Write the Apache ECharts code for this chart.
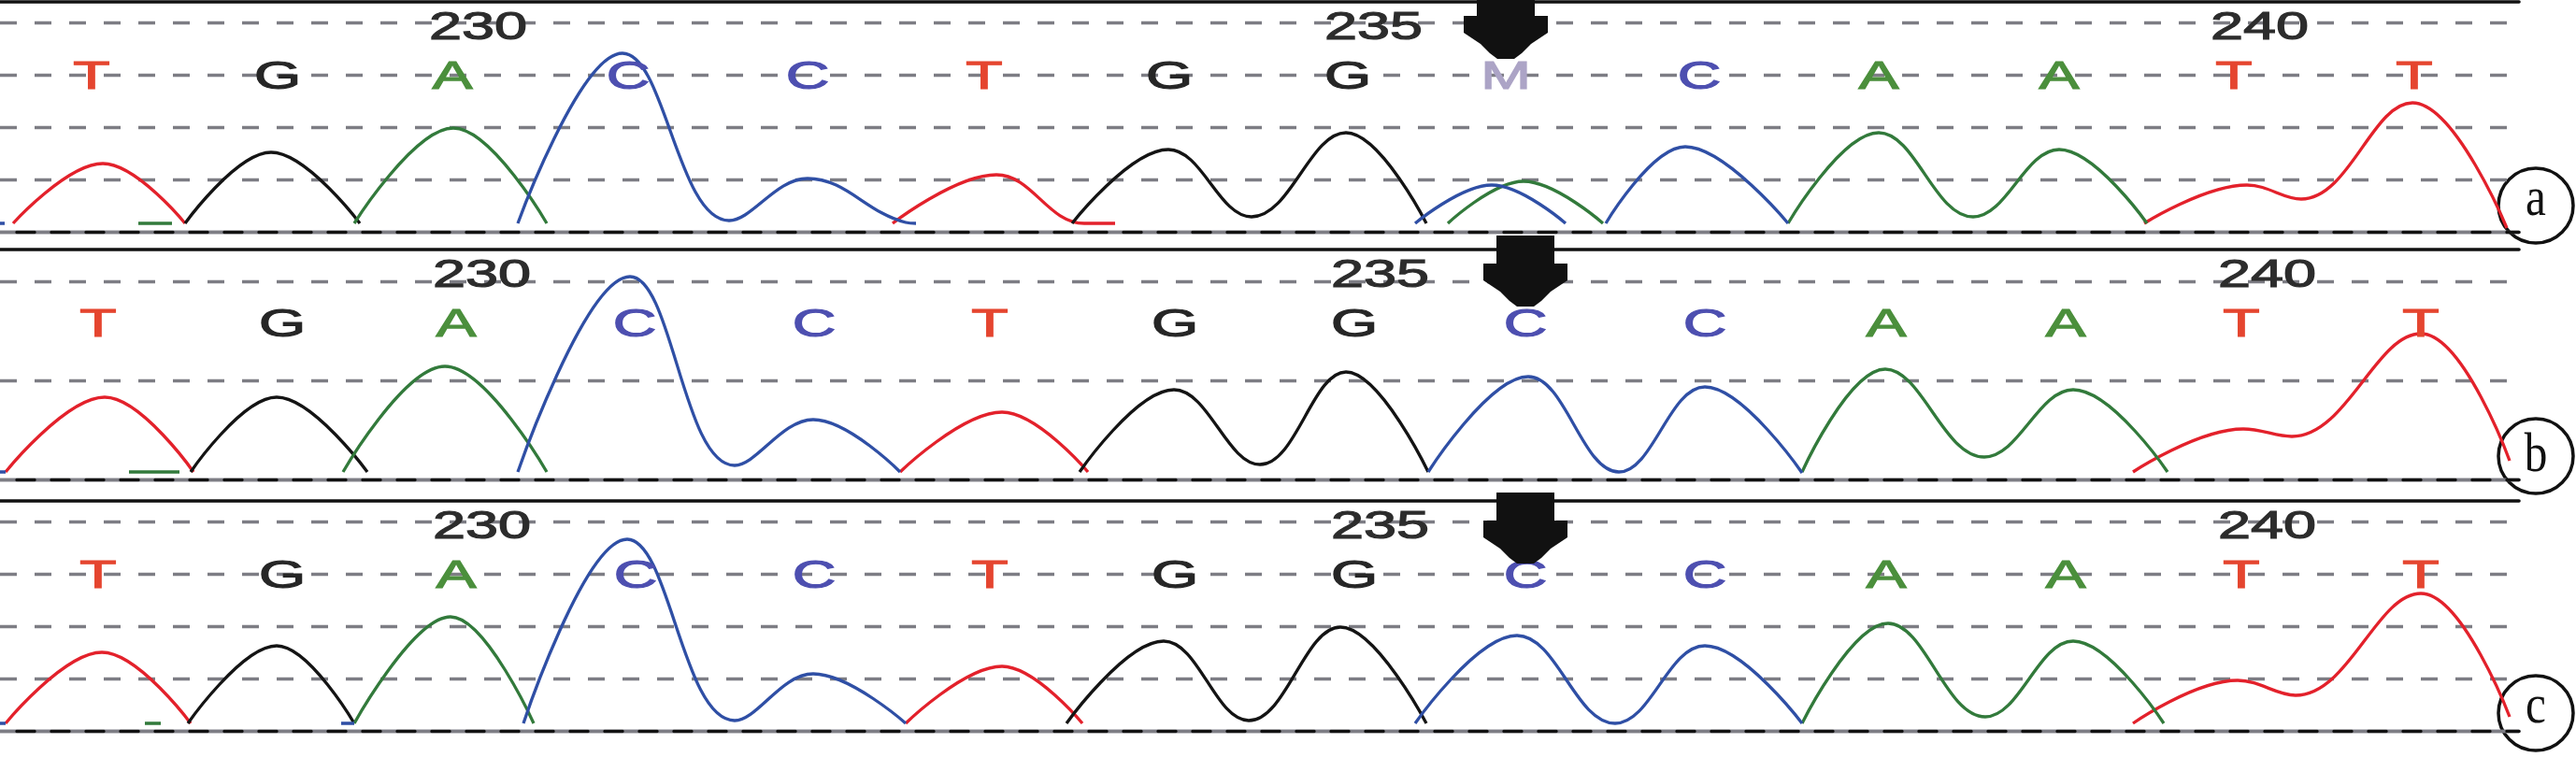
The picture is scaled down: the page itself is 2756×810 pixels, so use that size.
<!DOCTYPE html>
<html><head><meta charset="utf-8">
<script src="https://cdn.jsdelivr.net/npm/echarts@6/dist/echarts.min.js"></script>
<style>html,body{margin:0;padding:0;background:#fff}#c{width:2756px;height:810px}</style>
</head><body><div id="c"></div>
<script>
// ---- data ----
const firstBase = 228;
const basesA = ['T','G','A','C','C','T','G','G','M','C','A','A','T','T'];
const basesB = ['T','G','A','C','C','T','G','G','C','C','A','A','T','T'];
const basesC = ['T','G','A','C','C','T','G','G','C','C','A','A','T','T'];
const basePosA = [98,297,484,672,864,1053,1251,1442,1611,1818,2010,2203,2390,2583];
const basePosB = [105,302,488,679,871,1059,1257,1449,1632,1824,2018,2210,2398,2590];
const basePosC = [105,302,488,680,871,1059,1257,1449,1632,1824,2018,2210,2398,2590];
const tickBases = [230,235,240];
const tickLabels = ['230','235','240'];
const markedBase = 236;
const panelLabels = ['a','b','c'];

// trace points [scan position, signal height]; null = gap
const redA = [[14,9],[110,73],[198,9],null,[955,9],[1066,61],[1160,9],[1193,9],null,[2294,9],[2404,50],[2462,35],[2581,138],[2682,4]];
const blackA = [[198,9],[290,85],[385,9],null,[1147,9],[1250,88],[1339,16],[1440,106],[1526,9]];
const greenA = [[148,9],[184,9],null,[379,9],[485,111],[585,9],null,[1549,9],[1630,54],[1715,9],null,[1913,9],[2010,106],[2111,16],[2203,88],[2297,9]];
const blueA = [[0,9],[5,9],null,[554,9],[666,191],[780,12],[864,57],[969,10],[980,9],null,[1514,9],[1596,50],[1675,9],null,[1718,9],[1803,91],[1913,9]];

const redB = [[6,8],[112,88],[207,8],null,[963,8],[1072,72],[1164,8],null,[2282,8],[2400,54],[2452,46],[2590,156],[2685,20]];
const blackB = [[204,8],[296,88],[393,8],null,[1155,8],[1256,96],[1348,16],[1440,115],[1528,8]];
const greenB = [[138,8],[192,8],null,[367,8],[476,121],[585,8],null,[1928,8],[2017,118],[2123,24],[2218,96],[2319,8]];
const blueB = [[0,8],[6,8],null,[554,8],[674,217],[786,15],[870,64],[963,8],null,[1528,8],[1635,110],[1732,8],[1824,99],[1928,7]];

const redC = [[6,8],[109,84],[204,8],null,[969,8],[1072,69],[1158,8],null,[2282,8],[2394,54],[2456,38],[2590,147],[2685,15]];
const blackC = [[201,8],[296,91],[379,8],null,[1141,8],[1245,96],[1336,11],[1434,111],[1526,8]];
const greenC = [[155,8],[172,8],null,[379,8],[482,122],[571,8],null,[1928,8],[2020,115],[2124,15],[2218,96],[2315,8]];
const blueC = [[0,8],[6,8],null,[365,8],[379,8],null,[560,8],[671,205],[786,11],[870,61],[969,8],null,[1514,8],[1623,102],[1728,8],[1824,91],[1928,8]];

// ---- styling / layout ----
const COL = {red:'#e3212b', black:'#141414', green:'#327a3b', blue:'#2f4fa5'};
const baseColors = {T:'#e5452f', G:'#262626', A:'#4b8f3c', C:'#4d4fb0', M:'#aca4c6'};
const LETTER_H = 165, NUMBER_H = 218;
const panels = [
  {bases: basesA, pos: basePosA, traces:[redA,blackA,greenA,blueA], top:24, h:224, yMax:224, yInt:56, border:22.5, arrowH:185},
  {bases: basesB, pos: basePosB, traces:[redB,blackB,greenB,blueB], top:301, h:212, yMax:212, yInt:106, border:34, arrowH:185},
  {bases: basesC, pos: basePosC, traces:[redC,blackC,greenC,blueC], top:558, h:224, yMax:224, yInt:56, border:22, arrowH:179}
];
const circleY = [220, 488, 763];
const XMAX = 2695;
const FONT = '"Liberation Sans", Arial, sans-serif';
const arrowPath = 'path://M14 0 L76 0 L76 30 L90 30 L90 48 L72 60 L62 70 L54 76 L36 76 L28 70 L18 60 L0 48 L0 30 L14 30 Z';

const grid = [], xAxis = [], yAxis = [], series = [];
panels.forEach((p, gi) => {
  grid.push({left: 0, width: XMAX, top: p.top, height: p.h});
  const baseX = {gridIndex: gi, type: 'value', min: 0, max: XMAX, axisTick:{show:false}, axisLabel:{show:false}, splitLine:{show:false}};
  xAxis.push(Object.assign({}, baseX, {position:'bottom', axisLine:{show:true, onZero:false, lineStyle:{color:'#7d7d84', width:3.4}}}));
  xAxis.push(Object.assign({}, baseX, {position:'bottom', axisLine:{show:true, onZero:false, lineStyle:{color:'#111', width:3.4, type:[19,18], dashOffset:19}}}));
  xAxis.push(Object.assign({}, baseX, {position:'top', offset: p.border, axisLine:{show:true, onZero:false, lineStyle:{color:'#111', width:3.6}}}));
  yAxis.push({gridIndex: gi, type:'value', min:0, max:p.yMax, interval:p.yInt, axisLine:{show:false}, axisTick:{show:false}, axisLabel:{show:false},
    splitLine:{show:true, lineStyle:{color:'#7d7d84', width:3.3, type:[18,19]}}});
  const xi = gi*3;
  const colors = [COL.red, COL.black, COL.green, COL.blue];
  p.traces.forEach((t, k) => {
    series.push({type:'line', xAxisIndex: xi, yAxisIndex: gi, data: t.map(v => v ? v : ['-','-']),
      smooth: 0.4, symbol:'none', clip:false, connectNulls:false, silent:true, z: 3,
      lineStyle:{color: colors[k], width:3.3}});
  });
  // base letters
  series.push({type:'custom', xAxisIndex: xi, yAxisIndex: gi, clip:false, silent:true, z:5,
    data: p.pos.map((x, i) => [x, LETTER_H, i]),
    renderItem: (params, api) => {
      const i = api.value(2);
      const c = api.coord([api.value(0), api.value(1)]);
      const b = p.bases[i];
      return {type:'text', x:c[0], y:c[1], scaleX:1.5,
        style:{text:b, fill:baseColors[b], stroke:baseColors[b], lineWidth:1.2, font:'43px ' + FONT, align:'center', verticalAlign:'middle', textAlign:'center', textVerticalAlign:'middle'}};
    }});
  // position numbers
  series.push({type:'custom', xAxisIndex: xi, yAxisIndex: gi, clip:false, silent:true, z:5,
    data: tickBases.map((b, i) => [p.pos[b - firstBase], NUMBER_H, i]),
    renderItem: (params, api) => {
      const i = api.value(2);
      const c = api.coord([api.value(0), api.value(1)]);
      return {type:'text', x:c[0] - 25, y:c[1], scaleX:1.5,
        style:{text:tickLabels[i], fill:'#2c2c2c', stroke:'#2c2c2c', lineWidth:1.1, font:'42px ' + FONT, align:'left', verticalAlign:'middle', textAlign:'left', textVerticalAlign:'middle'}};
    }});
  // arrow marking the variant base
  series.push({type:'scatter', xAxisIndex: xi, yAxisIndex: gi, clip:false, silent:true, z:10,
    data: [[p.pos[markedBase - firstBase], p.arrowH]],
    symbol: arrowPath, symbolSize:[90,76], symbolOffset:[0,-38], itemStyle:{color:'#111', opacity:1}});
});

const graphic = panelLabels.map((t, i) => ({
  type:'group', x:2713, y:circleY[i], z:100,
  children:[
    {type:'circle', shape:{cx:0, cy:0, r:40}, style:{fill:'#fff', stroke:'#111', lineWidth:3.5}},
    {type:'text', x:0, y:(t === 'b' ? 0 : -6), scaleX:0.82,
     style:{text:t, font:'60px "Liberation Serif", "Times New Roman", serif', fill:'#111', align:'center', verticalAlign:'middle', textAlign:'center', textVerticalAlign:'middle'}}
  ]
}));

const chart = echarts.init(document.getElementById('c'), null, {renderer:'canvas'});
chart.setOption({animation:false, backgroundColor:'#fff', grid, xAxis, yAxis, series, graphic});
</script>
</body></html>
